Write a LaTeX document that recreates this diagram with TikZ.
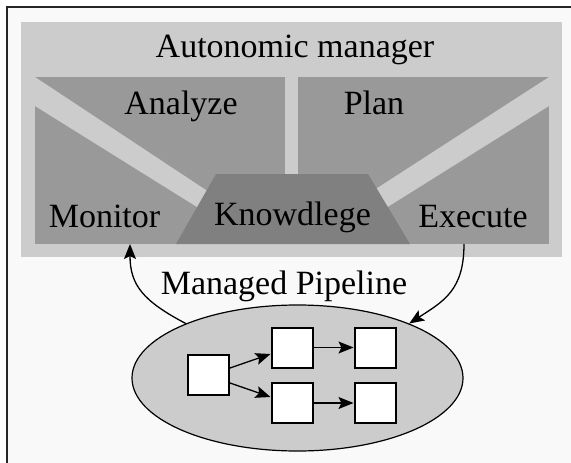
\documentclass[tikz,border=0pt]{standalone}
\usepackage{fontspec}
\setmainfont{Liberation Serif}
\usetikzlibrary{arrows.meta,shapes.geometric,calc}
\definecolor{bgc}{HTML}{F9F9F9}
\definecolor{lightg}{HTML}{CCCCCC}
\definecolor{darkg}{HTML}{999999}
\definecolor{kng}{HTML}{808080}
\begin{document}
\begin{tikzpicture}[x=1pt,y=-1pt,
  lbl/.style={anchor=base,inner sep=0pt,font=\fontsize{34}{40}\selectfont},
  pbox/.style={draw=black,line width=2pt,fill=white,minimum width=41pt,minimum height=40pt,inner sep=0pt},
  arr/.style={line width=1.3pt,-{Stealth[length=15pt,width=12pt,inset=3pt]}}]
\useasboundingbox (0,0) rectangle (571,463);
\fill[white] (0,0) rectangle (571,463);
\fill[bgc] (7,7) rectangle (571,463);
\draw[black!85,line width=1.5pt] (7,463) -- (7,7) -- (571,7);
% autonomic manager
\fill[lightg] (21,22) rectangle (562,257);
\fill[darkg] (35,77) rectangle (285,243.5);
\fill[darkg] (298,77) rectangle (549,243.5);
\fill[lightg] (35,77) -- (215,196) -- (205,212) -- (35,106) -- cycle;
\fill[lightg] (549,77) -- (368,194) -- (378,213) -- (549,106) -- cycle;
\fill[kng] (216,174) -- (368,174) -- (410,244) -- (176,244) -- cycle;
\node[lbl] (tam) at (295,57) {Autonomic manager};
\node[lbl] (tan) at (181,114) {Analyze};
\node[lbl] (tpl) at (374,114) {Plan};
\node[lbl] (tmo) at (104.5,227) {Monitor};
\node[lbl] (tkn) at (292.5,225) {Knowdlege};
\node[lbl] (tex) at (473,227) {Execute};
\coordinate (mon) at (130,244);
\coordinate (exe) at (464,244);
% managed pipeline
\node[lbl] (tmp) at (284,294) {Managed Pipeline};
\node[ellipse,draw=black,line width=1.2pt,fill=lightg,minimum width=331pt,minimum height=146pt,inner sep=0pt] (pipe) at (297.5,378) {};
\node[pbox] (b1) at (208.5,375) {};
\node[pbox] (b2) at (292,347.5) {};
\node[pbox] (b3) at (375,347.5) {};
\node[pbox] (b4) at (292,403) {};
\node[pbox] (b5) at (375,403) {};
\draw[arr] ([yshift=7pt]b1.east) -- ([yshift=-6.5pt]b2.west);
\draw[arr] ([yshift=-8pt]b1.east) -- ([yshift=6pt]b4.west);
\draw[arr] (b2) -- (b3);
\draw[arr] (b4) -- (b5);
\draw[arr] (pipe.154) .. controls (143,301) and (130,285) .. (mon);
\draw[arr] (exe) .. controls (464,290) and (444,301) .. (pipe.26);
\end{tikzpicture}
\end{document}
